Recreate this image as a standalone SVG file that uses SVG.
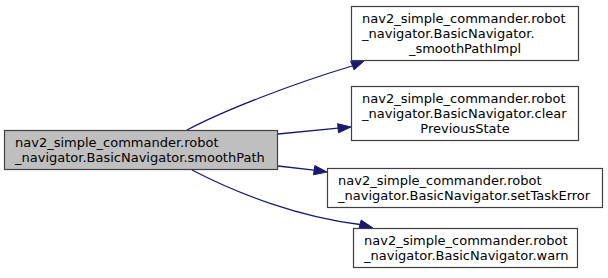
<svg xmlns="http://www.w3.org/2000/svg" width="608" height="278" viewBox="0 0 608 278">
<style>
text{font-family:"DejaVu Sans","Liberation Sans",sans-serif;font-size:13px;fill:#000}
.n{fill:#fff;stroke:#404040;stroke-width:1.2}
.m{fill:#bfbfbf;stroke:#404040;stroke-width:1.2}
.e{fill:none;stroke:#191970;stroke-width:1.3}
.a{fill:#191970;stroke:#191970}
.c{text-anchor:middle}
</style>
<rect width="608" height="278" fill="#fff"/>
<g id="edges">
<path class="e" d="M187,130 C225,110 292,84 352,66"/>
<polygon class="a" points="350.7,61.3 364,61 354.1,69.9"/>
<path class="e" d="M278,134 L338,128.2"/>
<polygon class="a" points="337.6,123.7 351,127 338.5,132.8"/>
<path class="e" d="M278,166 L314,170.2"/>
<polygon class="a" points="314.8,165.6 327,172 313.5,174.8"/>
<path class="e" d="M192,170 C240,195 300,217 360,224.5"/>
<polygon class="a" points="361.2,220.1 373,228 358.8,228.9"/>
</g>
<g id="main">
<rect class="m" x="4.5" y="130.5" width="273" height="39"/>
<text x="15" y="147">nav2_simple_commander.robot</text>
<text x="15" y="162">_navigator.BasicNavigator.smoothPath</text>
</g>
<g id="smoothPathImpl">
<rect class="n" x="351.5" y="6.5" width="227" height="54"/>
<text x="362" y="23">nav2_simple_commander.robot</text>
<text x="362" y="38">_navigator.BasicNavigator.</text>
<text class="c" x="465" y="53">_smoothPathImpl</text>
</g>
<g id="clearPreviousState">
<rect class="n" x="351.5" y="86.5" width="227" height="54"/>
<text x="362" y="103">nav2_simple_commander.robot</text>
<text x="362" y="118">_navigator.BasicNavigator.clear</text>
<text class="c" x="465" y="133">PreviousState</text>
</g>
<g id="setTaskError">
<rect class="n" x="327.5" y="168.5" width="275" height="39"/>
<text x="338" y="185">nav2_simple_commander.robot</text>
<text x="338" y="200">_navigator.BasicNavigator.setTaskError</text>
</g>
<g id="warn">
<rect class="n" x="353.5" y="228.5" width="224" height="39"/>
<text x="364" y="245">nav2_simple_commander.robot</text>
<text x="364" y="260">_navigator.BasicNavigator.warn</text>
</g>
</svg>
